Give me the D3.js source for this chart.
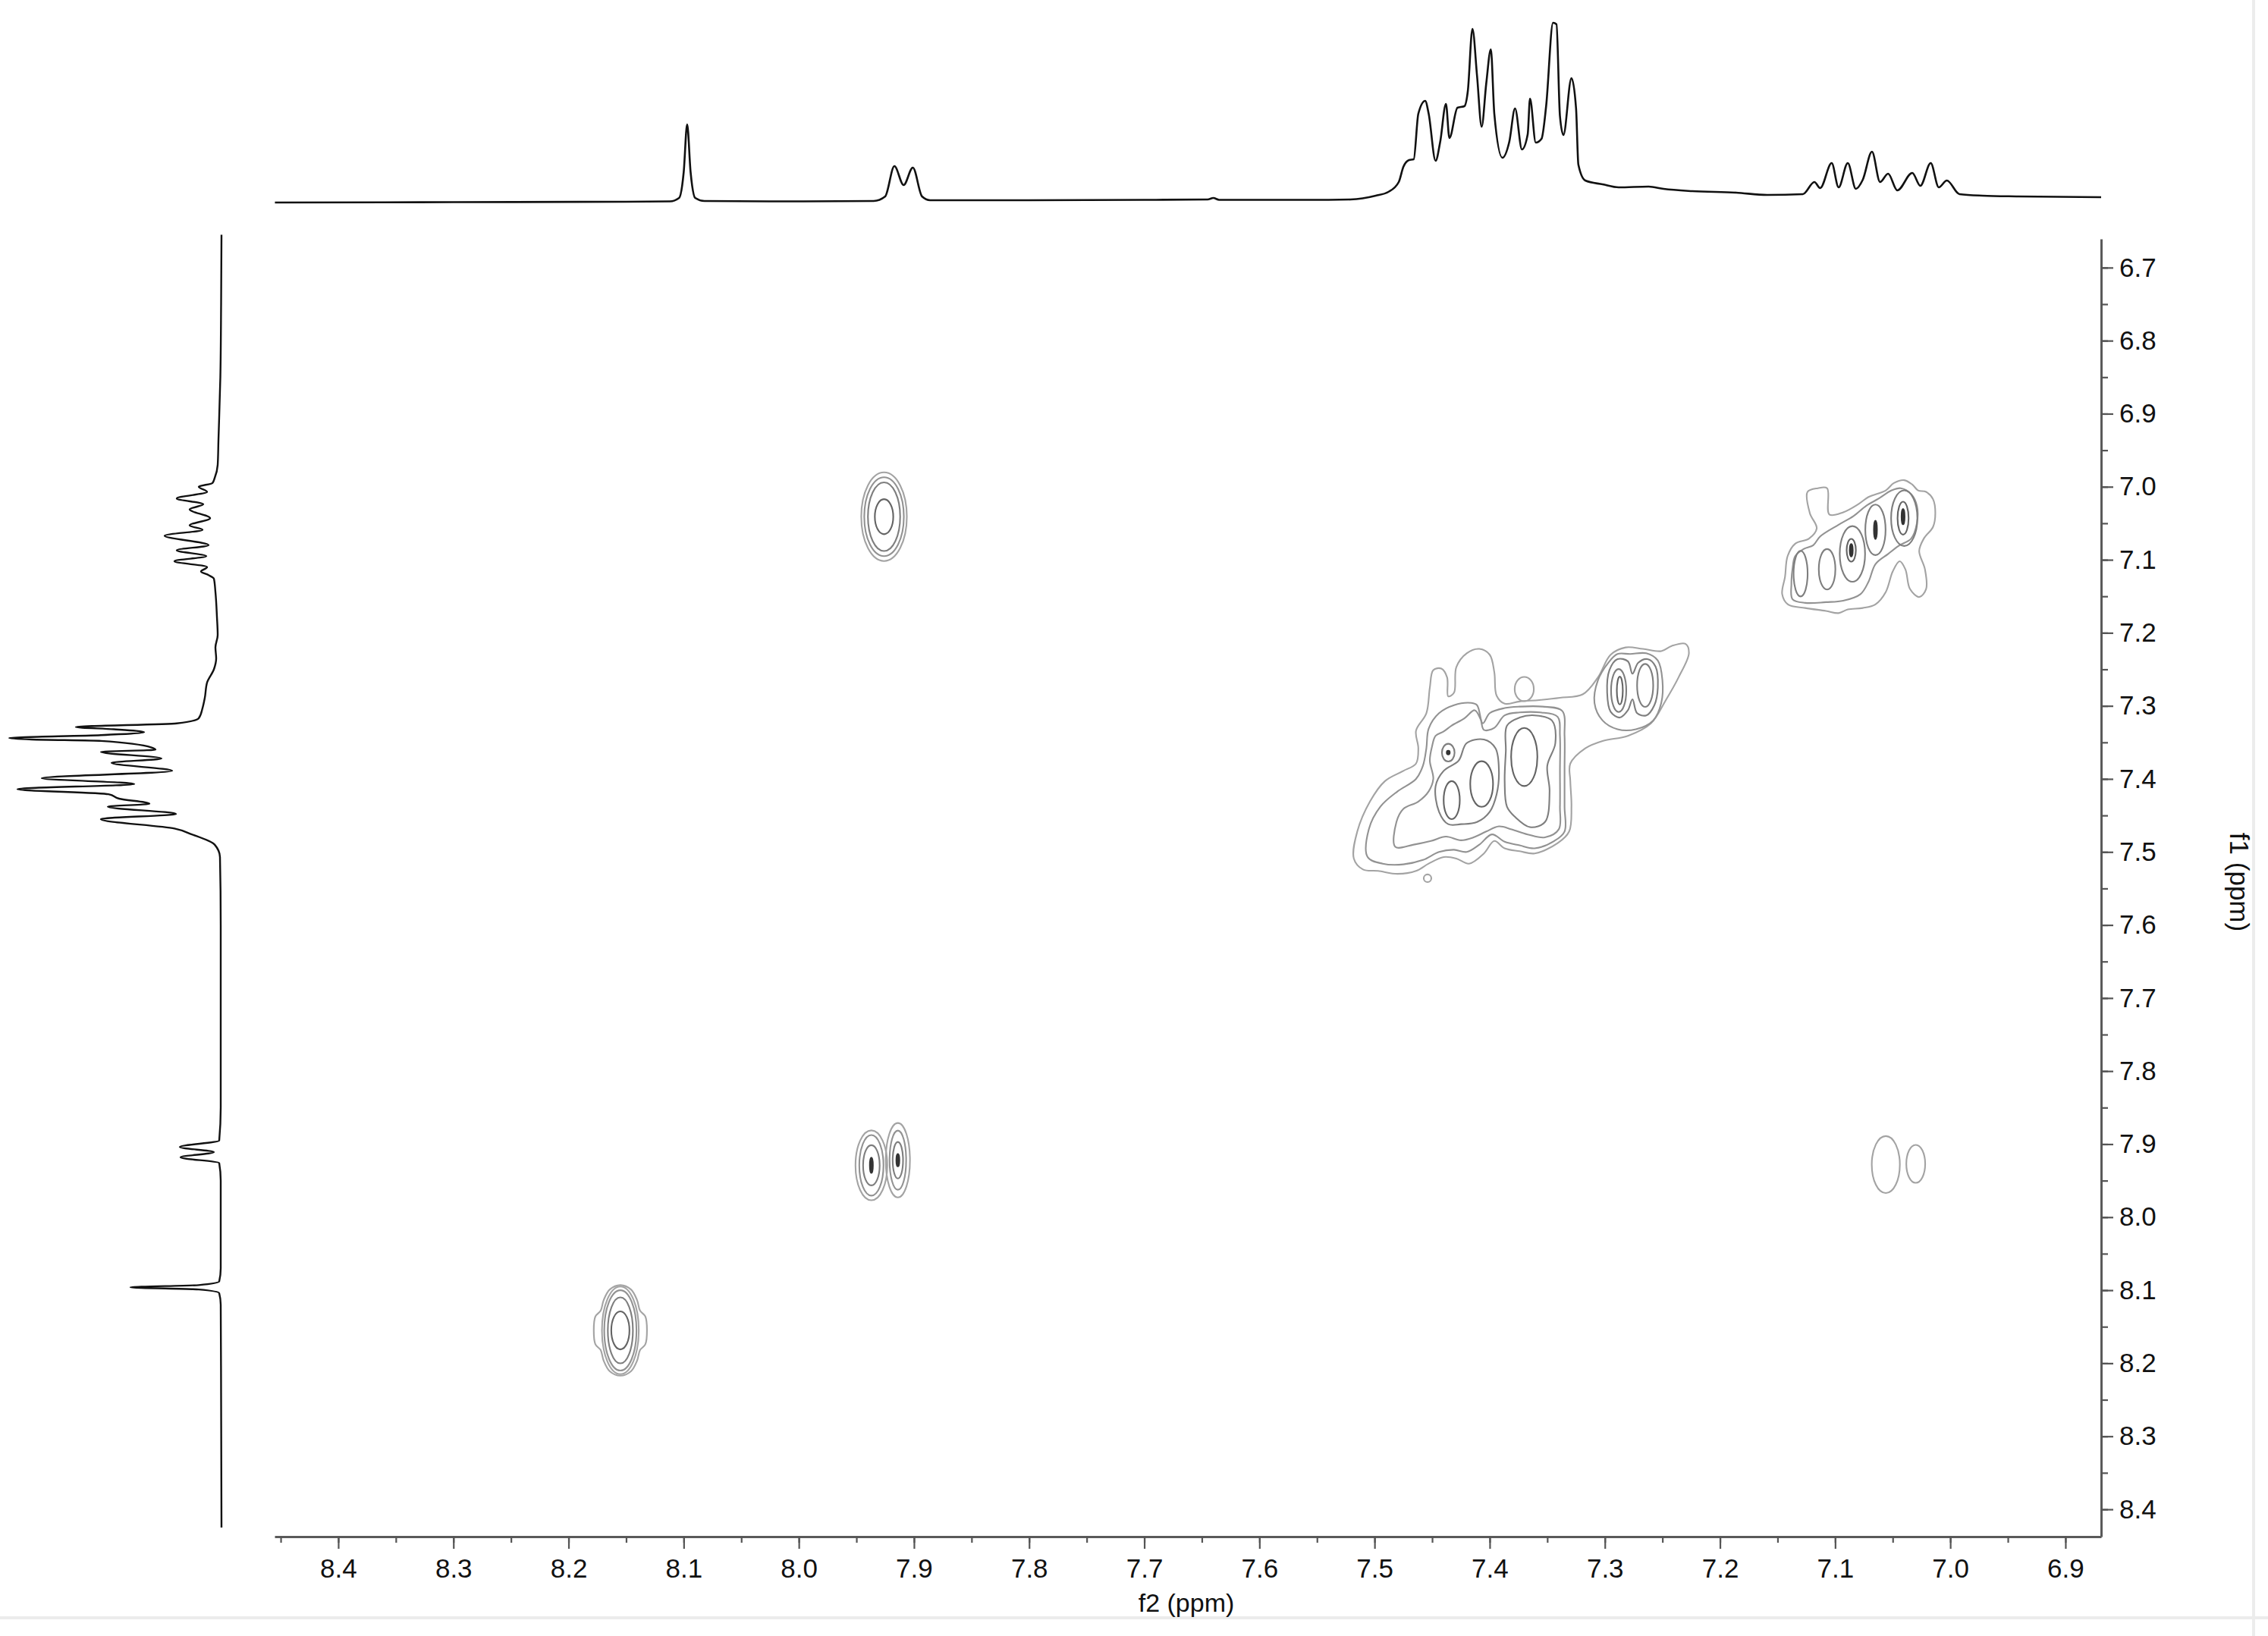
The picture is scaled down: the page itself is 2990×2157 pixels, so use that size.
<!DOCTYPE html>
<html>
<head>
<meta charset="utf-8">
<script src="https://cdn.jsdelivr.net/npm/d3@7/dist/d3.min.js"></script>
<style>
  html, body { margin: 0; padding: 0; background: #fff; }
  svg { display: block; }
  text { font-family: "Liberation Sans", Arial, sans-serif; fill: #111; }
</style>
</head>
<body>
<div id="chart"></div>
<script>
// tick labels of the two chemical-shift axes
const f2TickLabels = ["8.4","8.3","8.2","8.1","8.0","7.9","7.8","7.7","7.6","7.5","7.4","7.3","7.2","7.1","7.0","6.9"];
const f1TickLabels = ["6.7","6.8","6.9","7.0","7.1","7.2","7.3","7.4","7.5","7.6","7.7","7.8","7.9","8.0","8.1","8.2","8.3","8.4"];

// 1D projection on top (f2): [ppm, intensity]
const f2Projection = [
  [8.455,0],[8.30,0.5],[8.15,1],[8.112,1.5],[8.104,6],[8.100,40],[8.097,103],[8.094,40],[8.090,6],[8.082,2],
  [8.00,1.5],[7.935,2],[7.925,8],[7.917,48],[7.909,23],[7.901,46],[7.893,8],[7.886,3],[7.80,3],[7.70,3.5],
  [7.645,4],[7.640,6],[7.635,3.5],[7.58,3.5],[7.54,3.5],[7.521,4],[7.499,9],[7.488,14],[7.479,27],[7.475,47],
  [7.470,56],[7.466,57],[7.462,117],[7.456,134],[7.453,117],[7.447,55],[7.443,80],[7.438,130],[7.435,85],[7.428,125],
  [7.422,127],[7.419,147],[7.415,229],[7.411,167],[7.407,100],[7.403,157],[7.399,202],[7.396,117],[7.389,59],[7.383,80],
  [7.378,124],[7.372,70],[7.367,90],[7.365,137],[7.360,79],[7.355,84],[7.351,127],[7.345,237],[7.342,235],[7.339,114],
  [7.336,89],[7.329,164],[7.325,124],[7.323,50],[7.317,29],[7.302,24],[7.288,20],[7.262,21],[7.249,18],[7.224,15],
  [7.186,13],[7.159,10],[7.128,11],[7.118,27],[7.113,19],[7.103,52],[7.097,20],[7.089,52],[7.082,18],[7.076,30],
  [7.068,67],[7.061,27],[7.054,38],[7.046,16],[7.033,39],[7.026,22],[7.017,52],[7.010,20],[7.003,29],[6.992,11],
  [6.972,9],[6.941,8],[6.869,7]
];

// 1D projection on the left (f1): [ppm, intensity]
const f1Projection = [
  [6.655,0],[6.75,0.5],[6.85,1.5],[6.936,4],[6.970,5],[6.988,9],[6.995,12],[7.000,30],[7.007,19],[7.016,59],
  [7.024,24],[7.031,42],[7.043,15],[7.053,42],[7.059,25],[7.067,75],[7.080,17],[7.087,59],[7.095,20],[7.102,62],
  [7.110,19],[7.116,27],[7.121,17],[7.126,10],[7.144,8],[7.178,6],[7.203,5],[7.220,8],[7.235,7],[7.250,10],
  [7.268,19],[7.289,22],[7.303,25],[7.317,30],[7.324,59],[7.329,192],[7.332,142],[7.336,102],[7.340,159],[7.344,280],
  [7.346,250],[7.348,159],[7.357,92],[7.360,87],[7.363,159],[7.372,79],[7.378,145],[7.389,65],[7.399,237],[7.407,115],
  [7.414,269],[7.421,149],[7.427,135],[7.434,95],[7.438,150],[7.448,60],[7.455,159],[7.468,62],[7.476,39],[7.490,9],
  [7.507,2],[7.60,1],[7.85,1],[7.895,3],[7.904,55],[7.911,10],[7.918,54],[7.926,3],[7.95,1],[8.07,1],
  [8.088,3],[8.093,30],[8.096,120],[8.099,30],[8.104,3],[8.12,1],[8.25,0.5],[8.425,0]
];

// traced contour rings: [f2 ppm, f1 ppm]
const ringF1 = [[7.518,7.509],[7.515,7.472],[7.504,7.431],[7.491,7.403],[7.475,7.389],[7.464,7.379],[7.462,7.358],[7.464,7.334],[7.455,7.310],[7.452,7.275],[7.449,7.251],[7.442,7.249],[7.437,7.261],[7.436,7.287],[7.431,7.282],[7.429,7.247],[7.420,7.228],[7.409,7.222],[7.400,7.230],[7.396,7.254],[7.394,7.286],[7.387,7.297],[7.374,7.294],[7.357,7.292],[7.339,7.289],[7.319,7.284],[7.306,7.261],[7.295,7.230],[7.282,7.220],[7.267,7.222],[7.251,7.225],[7.242,7.218],[7.230,7.215],[7.227,7.228],[7.236,7.261],[7.247,7.292],[7.260,7.324],[7.280,7.341],[7.302,7.348],[7.317,7.358],[7.330,7.379],[7.330,7.403],[7.329,7.438],[7.331,7.472],[7.341,7.488],[7.361,7.502],[7.374,7.499],[7.387,7.495],[7.396,7.485],[7.405,7.502],[7.418,7.516],[7.429,7.509],[7.440,7.507],[7.453,7.516],[7.464,7.526],[7.480,7.530],[7.497,7.526],[7.510,7.524]];
const ringF2 = [[7.506,7.507],[7.505,7.469],[7.495,7.438],[7.480,7.417],[7.464,7.400],[7.458,7.382],[7.455,7.358],[7.453,7.331],[7.444,7.310],[7.431,7.299],[7.416,7.296],[7.411,7.299],[7.406,7.324],[7.400,7.310],[7.387,7.303],[7.374,7.301],[7.354,7.301],[7.337,7.307],[7.335,7.341],[7.335,7.386],[7.335,7.438],[7.335,7.472],[7.344,7.485],[7.361,7.495],[7.374,7.491],[7.387,7.486],[7.398,7.476],[7.409,7.490],[7.420,7.500],[7.431,7.497],[7.444,7.500],[7.458,7.511],[7.475,7.517],[7.493,7.516]];
const ringF3 = [[7.482,7.493],[7.481,7.459],[7.475,7.441],[7.462,7.431],[7.453,7.417],[7.449,7.400],[7.452,7.375],[7.450,7.355],[7.447,7.341],[7.440,7.335],[7.433,7.327],[7.422,7.317],[7.413,7.306],[7.408,7.318],[7.405,7.333],[7.396,7.330],[7.387,7.313],[7.374,7.309],[7.356,7.309],[7.341,7.315],[7.339,7.341],[7.339,7.389],[7.339,7.438],[7.340,7.469],[7.352,7.480],[7.367,7.476],[7.381,7.469],[7.392,7.465],[7.403,7.472],[7.414,7.480],[7.425,7.484],[7.438,7.479],[7.451,7.485],[7.466,7.490]];
const ringF4 = [[7.444,7.445],[7.447,7.410],[7.440,7.389],[7.427,7.375],[7.420,7.351],[7.405,7.346],[7.395,7.358],[7.392,7.389],[7.394,7.421],[7.400,7.445],[7.411,7.459],[7.425,7.462],[7.436,7.462]];
const ringF6 = [[7.385,7.327],[7.374,7.316],[7.361,7.313],[7.346,7.320],[7.343,7.351],[7.350,7.382],[7.348,7.417],[7.352,7.459],[7.365,7.466],[7.378,7.452],[7.385,7.438],[7.387,7.403],[7.386,7.362]];
const ringG1 = [[7.309,7.296],[7.306,7.265],[7.297,7.241],[7.289,7.229],[7.278,7.229],[7.264,7.228],[7.254,7.238],[7.250,7.265],[7.251,7.296],[7.258,7.320],[7.273,7.332],[7.289,7.332],[7.302,7.320]];
const ringG2 = [[7.298,7.282],[7.296,7.251],[7.289,7.236],[7.280,7.239],[7.276,7.256],[7.271,7.241],[7.263,7.236],[7.256,7.246],[7.254,7.275],[7.257,7.299],[7.264,7.313],[7.272,7.310],[7.276,7.291],[7.280,7.306],[7.287,7.316],[7.295,7.308]];
const ringE1 = [[7.124,7.007],[7.115,7.002],[7.107,7.002],[7.105,7.038],[7.093,7.035],[7.080,7.024],[7.071,7.014],[7.056,7.005],[7.049,6.995],[7.040,6.991],[7.033,6.997],[7.028,7.005],[7.021,7.007],[7.015,7.017],[7.013,7.036],[7.015,7.055],[7.023,7.071],[7.027,7.088],[7.022,7.113],[7.021,7.140],[7.027,7.151],[7.035,7.140],[7.039,7.113],[7.044,7.102],[7.050,7.116],[7.056,7.144],[7.065,7.161],[7.076,7.166],[7.089,7.168],[7.097,7.173],[7.108,7.170],[7.126,7.166],[7.141,7.161],[7.146,7.147],[7.1435,7.123],[7.1413,7.095],[7.1347,7.078],[7.1227,7.071],[7.116,7.057],[7.122,7.036]];
const ringE2 = [[7.1347,7.095],[7.1271,7.085],[7.119,7.080],[7.113,7.068],[7.097,7.052],[7.084,7.040],[7.073,7.026],[7.062,7.016],[7.051,7.005],[7.043,7.002],[7.034,7.010],[7.029,7.026],[7.029,7.050],[7.034,7.071],[7.045,7.081],[7.054,7.092],[7.065,7.106],[7.071,7.130],[7.078,7.147],[7.093,7.156],[7.108,7.158],[7.126,7.159],[7.137,7.154],[7.138,7.133],[7.137,7.112]];
const ringB0 = [[8.155,8.093],[8.1458,8.099],[8.1405,8.1135],[8.1379,8.128],[8.1333,8.136],[8.1319,8.155],[8.1333,8.174],[8.1379,8.182],[8.1405,8.1965],[8.1458,8.211],[8.155,8.217],[8.1642,8.211],[8.1695,8.1965],[8.1721,8.182],[8.1767,8.174],[8.1781,8.155],[8.1767,8.136],[8.1721,8.128],[8.1695,8.1135],[8.1642,8.099]];

const contourRings = [
  { level: 1, pts: ringF1 }, { level: 2, pts: ringF2 }, { level: 2, pts: ringF3 },
  { level: 3, pts: ringF4 }, { level: 3, pts: ringF6 }, { level: 2, pts: ringG1 },
  { level: 3, pts: ringG2 }, { level: 1, pts: ringE1 }, { level: 2, pts: ringE2 },
  { level: 1, pts: ringB0 }
];

// elliptic contour rings: [f2 centre, f1 centre, half width f2, half height f1, level]
const contourPeaks = [
  [7.926,7.041,0.0198,0.0607,1],[7.926,7.041,0.0172,0.0540,2],[7.926,7.041,0.0140,0.0470,3],[7.926,7.041,0.0080,0.0240,4],
  [8.155,8.155,0.0160,0.0600,1],[8.155,8.155,0.0140,0.0550,2],[8.155,8.155,0.0109,0.0452,3],[8.155,8.155,0.0079,0.0260,4],
  [7.937,7.929,0.0138,0.0478,1],[7.937,7.929,0.0105,0.0415,2],[7.937,7.929,0.0072,0.0275,3],[7.937,7.929,0.0010,0.0100,5],
  [7.914,7.922,0.0105,0.0509,1],[7.914,7.922,0.0072,0.0405,2],[7.914,7.922,0.0045,0.0250,3],[7.914,7.922,0.0010,0.0080,5],
  [7.056,7.928,0.0122,0.0390,1],[7.030,7.927,0.0082,0.0260,1],
  [7.130,7.119,0.0061,0.0312,3],[7.107,7.113,0.0072,0.0277,3],
  [7.085,7.092,0.0110,0.0381,3],[7.086,7.087,0.0040,0.0156,4],[7.086,7.087,0.0010,0.0080,5],
  [7.065,7.059,0.0088,0.0346,3],[7.065,7.059,0.0010,0.0120,5],
  [7.040,7.043,0.0114,0.0381,3],[7.041,7.043,0.0048,0.0225,4],[7.041,7.041,0.0010,0.0100,5],
  [7.370,7.277,0.0083,0.0166,1],[7.454,7.536,0.0033,0.0052,1],
  [7.433,7.429,0.0070,0.0260,4],[7.407,7.407,0.0099,0.0312,4],
  [7.436,7.364,0.0055,0.0121,3],[7.436,7.364,0.0010,0.0020,5],
  [7.370,7.370,0.0114,0.0398,4],
  [7.288,7.279,0.0066,0.0294,3],[7.287,7.279,0.0026,0.0190,4],[7.265,7.272,0.0070,0.0294,3]
];

const W = 2990, H = 2157;
const levelColor = ["#000", "#a3a3a3", "#929292", "#7e7e7e", "#646464", "#333333"];

const svg = d3.select("#chart").append("svg").attr("width", W).attr("height", H);
svg.append("rect").attr("width", W).attr("height", H).attr("fill", "#fff");

// window frame edges
svg.append("line").attr("x1", 0).attr("x2", W).attr("y1", 2133).attr("y2", 2133)
  .attr("stroke", "#ececec").attr("stroke-width", 4);
svg.append("line").attr("x1", 2971).attr("x2", 2971).attr("y1", 0).attr("y2", H)
  .attr("stroke", "#ececec").attr("stroke-width", 4);

const x = d3.scaleLinear().domain([8.4553, 6.869]).range([362, 2770]);
const y = d3.scaleLinear().domain([6.6607, 8.4374]).range([315, 2026]);
const topI = d3.scaleLinear().domain([0, 250]).range([267, 17]);
const leftI = d3.scaleLinear().domain([0, 290]).range([292, 2]);

// contours
const contours = svg.append("g").attr("fill", "none").attr("stroke-width", 2.1);
const ringLine = d3.line().x(d => x(d[0])).y(d => y(d[1])).curve(d3.curveCatmullRomClosed.alpha(0.5));
contours.selectAll("path.ring").data(contourRings).join("path")
  .attr("class", "ring")
  .attr("d", d => ringLine(d.pts))
  .attr("stroke", d => levelColor[d.level]);
contours.selectAll("ellipse").data(contourPeaks).join("ellipse")
  .attr("cx", d => x(d[0]))
  .attr("cy", d => y(d[1]))
  .attr("rx", d => Math.abs(x(d[0] + d[2]) - x(d[0])))
  .attr("ry", d => Math.abs(y(d[1] + d[3]) - y(d[1])))
  .attr("stroke", d => levelColor[d[4]])
  .attr("stroke-width", d => d[4] === 5 ? 3 : 2.1);

// projections
const topLine = d3.line().x(d => x(d[0])).y(d => topI(d[1])).curve(d3.curveMonotoneX);
svg.append("path").attr("d", topLine(f2Projection))
  .attr("fill", "none").attr("stroke", "#111").attr("stroke-width", 2.6).attr("stroke-linejoin", "round");
const leftLine = d3.line().x(d => leftI(d[1])).y(d => y(d[0])).curve(d3.curveMonotoneY);
svg.append("path").attr("d", leftLine(f1Projection))
  .attr("fill", "none").attr("stroke", "#111").attr("stroke-width", 2.4).attr("stroke-linejoin", "round");

// axes
const f2Major = f2TickLabels.map(Number);
const f1Major = f1TickLabels.map(Number);
const minorOf = (sc) => {
  const [a, b] = d3.extent(sc.domain());
  return d3.range(Math.ceil(a / 0.05), Math.floor(b / 0.05) + 1).map(i => +(i * 0.05).toFixed(2));
};

const xAxisY = 2026, yAxisX = 2770;
const xAxisG = svg.append("g").attr("transform", `translate(0,${xAxisY})`);
xAxisG.call(d3.axisBottom(x).tickValues(minorOf(x)).tickSize(8).tickSizeOuter(0).tickFormat(""));
xAxisG.append("g").call(d3.axisBottom(x).tickValues(f2Major).tickSize(16).tickSizeOuter(0)
  .tickFormat((d, i) => f2TickLabels[i]).tickPadding(13))
  .call(g => g.select(".domain").remove());

const yAxisG = svg.append("g").attr("transform", `translate(${yAxisX},0)`);
yAxisG.call(d3.axisRight(y).tickValues(minorOf(y)).tickSize(9).tickSizeOuter(0).tickFormat(""));
yAxisG.append("g").call(d3.axisRight(y).tickValues(f1Major).tickSize(16).tickSizeOuter(0)
  .tickFormat((d, i) => f1TickLabels[i]).tickPadding(8))
  .call(g => g.select(".domain").remove());

svg.selectAll(".domain").attr("stroke", "#5a5a5a").attr("stroke-width", 3);
svg.selectAll(".tick line").attr("stroke", "#555").attr("stroke-width", 2.2);
svg.selectAll(".tick text").attr("font-size", 35).attr("font-family", "Liberation Sans, Arial, sans-serif").attr("fill", "#111");

svg.append("text").attr("x", 1564).attr("y", 2125).attr("text-anchor", "middle")
  .attr("font-size", 34).text("f2 (ppm)");
svg.append("text").attr("transform", "translate(2940,1163) rotate(90)").attr("text-anchor", "middle")
  .attr("font-size", 35).text("f1 (ppm)");
</script>
</body>
</html>
